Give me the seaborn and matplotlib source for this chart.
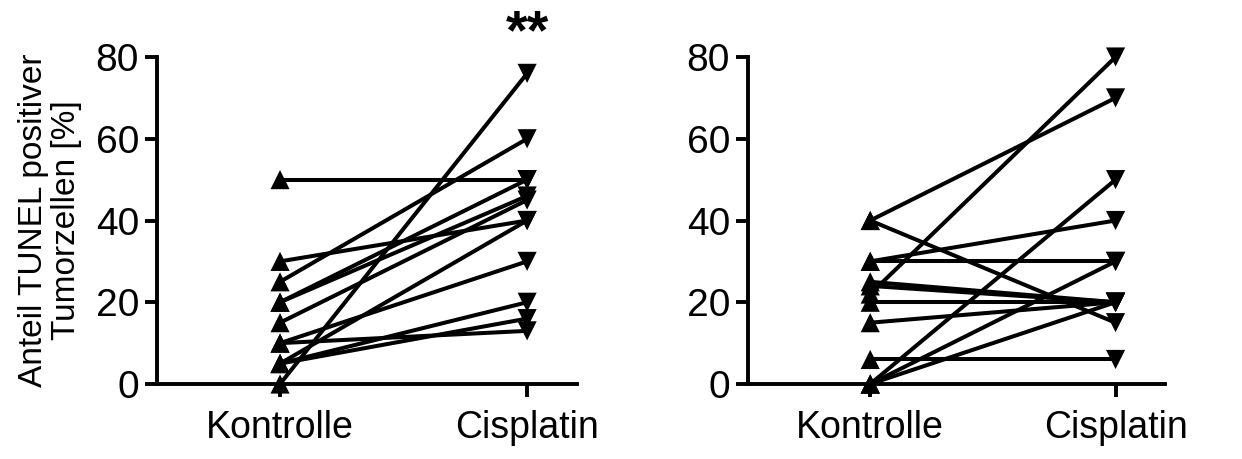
import matplotlib
matplotlib.use("Agg")
import matplotlib.pyplot as plt
import seaborn as sns
import pandas as pd

# Werte (je Tier ein Paar Kontrolle -> Cisplatin)
gruppen = ["Kontrolle", "Cisplatin"]

kontrolle_links = [50, 0, 25, 30, 20, 20, 15, 5, 10, 5, 10, 5]
cisplatin_links = [50, 76, 60, 40, 50, 46, 45, 40, 30, 20, 13, 16]

kontrolle_rechts = [22, 40, 40, 0, 30, 30, 25, 24, 20, 15, 6, 0, 0]
cisplatin_rechts = [80, 70, 15, 50, 40, 30, 20, 20, 20, 20, 6, 30, 20]

yticks = [0, 20, 40, 60, 80]


def lang_format(kontrolle, cisplatin):
    zeilen = []
    for i, (k, c) in enumerate(zip(kontrolle, cisplatin)):
        zeilen.append({"id": i, "Gruppe": gruppen[0], "Wert": k})
        zeilen.append({"id": i, "Gruppe": gruppen[1], "Wert": c})
    return pd.DataFrame(zeilen)


sns.set_style("ticks", {"axes.edgecolor": "black", "text.color": "black",
                        "xtick.color": "black", "ytick.color": "black",
                        "axes.labelcolor": "black"})
plt.rcParams["font.family"] = ["Liberation Sans", "DejaVu Sans"]

fig = plt.figure(figsize=(12.42, 4.59), dpi=100)
ax1 = fig.add_axes([0.1264, 0.1634, 0.3382, 0.7124])
ax2 = fig.add_axes([0.6023, 0.1634, 0.3358, 0.7124])

for ax, k, c in [(ax1, kontrolle_links, cisplatin_links),
                 (ax2, kontrolle_rechts, cisplatin_rechts)]:
    df = lang_format(k, c)
    sns.lineplot(data=df, x="Gruppe", y="Wert", units="id", estimator=None,
                 sort=False, color="black", linewidth=2.9, ax=ax, legend=False)
    sns.scatterplot(data=df, x="Gruppe", y="Wert", style="Gruppe",
                    markers={"Kontrolle": "^", "Cisplatin": "v"},
                    color="black", s=190, linewidth=0, ax=ax, legend=False,
                    clip_on=False, zorder=5)
    for l in ax.lines:
        l.set_clip_on(False)

    ax.set_xlim(-0.498, 1.202)
    ax.set_ylim(0, 80)
    ax.set_yticks(yticks)
    ax.set_xticks([0, 1])
    ax.set_xticklabels(gruppen)
    ax.set_xlabel("")
    ax.set_ylabel("")
    sns.despine(ax=ax)
    for s in ["left", "bottom"]:
        ax.spines[s].set_linewidth(2.8)
        ax.spines[s].set_color("black")
    ax.tick_params(axis="both", direction="out", length=9, width=2.8,
                   color="black", labelcolor="black")
    ax.tick_params(axis="y", labelsize=28, pad=4)
    ax.tick_params(axis="x", labelsize=27, pad=10)

ax1.set_ylabel("Anteil TUNEL positiver\nTumorzellen [%]", fontsize=24,
               labelpad=10, linespacing=1.05, color="black")
ax1.text(1, 85.5, "**", ha="center", va="center", fontsize=40,
         fontweight="bold", color="black", clip_on=False)

fig.savefig("out.png", dpi=100)
